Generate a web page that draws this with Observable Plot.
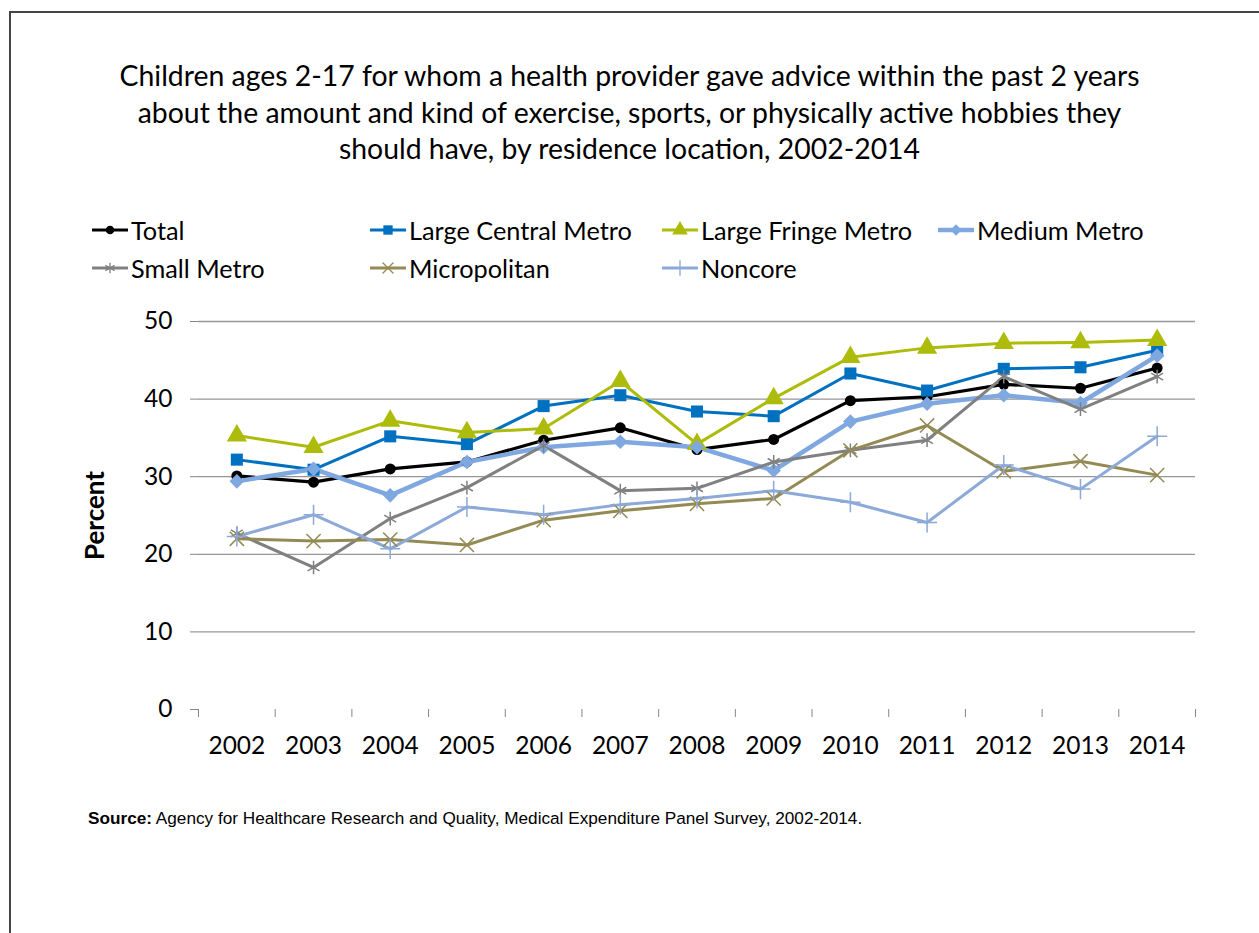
<!DOCTYPE html>
<html>
<head>
<meta charset="utf-8">
<script src="https://cdn.jsdelivr.net/npm/d3@7"></script>
<script src="https://cdn.jsdelivr.net/npm/@observablehq/plot@0.6"></script>
<style>
  html, body { margin: 0; padding: 0; background: #fff; }
  body { width: 1259px; height: 933px; position: relative; overflow: hidden; font-family: Lato, "Open Sans", sans-serif; }
  #frame { position: absolute; left: 9px; top: 11px; width: 1400px; height: 1000px; border-left: 2px solid #444; border-top: 2px solid #444; }
  #title { position: absolute; left: 0; width: 1259px; top: 57px; text-align: center; font-size: 28.4px; line-height: 36.5px; color: #000; white-space: nowrap; }
  #legend { position: absolute; left: 92px; top: 215px; display: grid; grid-template-columns: 278px 292px 276px 300px; row-gap: 8px; }
  .item { display: flex; align-items: center; height: 30px; font-size: 25.3px; color: #000; white-space: nowrap; }
  .item svg { margin-right: 3px; flex: none; }
  #chart { position: absolute; left: 0; top: 300px; }
  #source { position: absolute; left: 88px; top: 808px; font-family: "Liberation Sans", Arial, sans-serif; font-size: 17.2px; color: #000; white-space: nowrap; }
</style>
</head>
<body>
<div id="frame"></div>
<div id="title">Children ages 2-17 for whom a health provider gave advice within the past 2 years<br>about the amount and kind of exercise, sports, or physically active hobbies they<br>should have, by residence location, 2002-2014</div>
<div id="legend"></div>
<div id="chart"></div>
<div id="source"><b>Source:</b> Agency for Healthcare Research and Quality, Medical Expenditure Panel Survey, 2002-2014.</div>
<script>
const years = [2002, 2003, 2004, 2005, 2006, 2007, 2008, 2009, 2010, 2011, 2012, 2013, 2014];
const seriesNames = ["Total", "Large Central Metro", "Large Fringe Metro", "Medium Metro", "Small Metro", "Micropolitan", "Noncore"];
const total        = [30.1, 29.3, 31.0, 31.9, 34.7, 36.3, 33.5, 34.8, 39.8, 40.3, 41.9, 41.4, 44.0];
const largeCentral = [32.2, 30.9, 35.2, 34.2, 39.1, 40.5, 38.4, 37.8, 43.3, 41.1, 43.9, 44.1, 46.3];
const largeFringe  = [35.3, 33.8, 37.2, 35.7, 36.2, 42.3, 34.2, 40.1, 45.4, 46.6, 47.2, 47.3, 47.6];
const mediumMetro  = [29.4, 31.0, 27.6, 31.9, 33.8, 34.5, 33.8, 30.8, 37.1, 39.4, 40.5, 39.5, 45.6];
const smallMetro   = [22.7, 18.3, 24.6, 28.6, 34.0, 28.2, 28.5, 31.9, 33.4, 34.7, 42.9, 38.7, 42.9];
const micropolitan = [22.0, 21.7, 21.9, 21.2, 24.4, 25.6, 26.5, 27.2, 33.4, 36.6, 30.7, 32.0, 30.2];
const noncore      = [22.3, 25.1, 20.7, 26.1, 25.1, 26.4, 27.2, 28.2, 26.7, 24.1, 31.5, 28.4, 35.2];
const yTicks = [0, 10, 20, 30, 40, 50];

const seriesValues = [total, largeCentral, largeFringe, mediumMetro, smallMetro, micropolitan, noncore];
const styles = [
  {color: "#000000", symbol: "circle",   r: 5.5, filled: true,  width: 3.2},
  {color: "#0070C0", symbol: "square",   r: 6.8, filled: true,  width: 3},
  {color: "#ADBC0A", symbol: "triangle", r: 7.5, filled: true,  width: 3},
  {color: "#7FA8E0", symbol: "diamond2", r: 6.6, filled: true,  width: 4.5},
  {color: "#808080", symbol: "asterisk", r: 6.5, filled: false, width: 3},
  {color: "#948A54", symbol: "times",    r: 6.5, filled: false, width: 3},
  {color: "#8DA9D8", symbol: "plus",     r: 6.5, filled: false, width: 3}
];

const series = seriesNames.map((name, i) => ({
  name, style: styles[i],
  data: years.map((year, j) => ({year, value: seriesValues[i][j], series: name}))
}));

const boundaries = years.map(y => y - 0.5).concat([years[years.length - 1] + 0.5]);

const marks = [
  Plot.gridY(yTicks.filter(d => d > 0), {stroke: "#969696", strokeOpacity: 1, strokeWidth: 1.3}),
  Plot.axisY(yTicks, {tickSize: 8, tickPadding: 18, fontSize: 24.5, label: null, stroke: "#868686", line: true, fill: "#000"}),
  Plot.axisX(boundaries, {tickSize: 8, tickFormat: () => "", label: null, stroke: "#868686", line: true}),
  Plot.axisX(years, {tickSize: 0, tickPadding: 27, fontSize: 24.5, tickFormat: d => String(d), label: null, fill: "#000"}),
  Plot.text(["Percent"], {frameAnchor: "left", textAnchor: "middle", dx: -103, rotate: -90, fontWeight: "bold", fontSize: 26, fill: "#000"})
];
for (const s of series) {
  marks.push(Plot.line(s.data, {x: "year", y: "value", stroke: s.style.color, strokeWidth: s.style.width, curve: "linear"}));
}
for (const s of series) {
  const st = s.style;
  marks.push(Plot.dot(s.data, st.filled
    ? {x: "year", y: "value", symbol: () => st.symbol, r: st.r, fill: st.color, stroke: "none"}
    : {x: "year", y: "value", symbol: () => st.symbol, r: st.r, fill: "none", stroke: st.color, strokeWidth: 1.5}));
}

const chart = Plot.plot({
  width: 1259, height: 470,
  marginLeft: 198, marginRight: 64, marginTop: 21, marginBottom: 61,
  style: {fontFamily: "Lato, 'Open Sans', sans-serif", fontSize: "24px", color: "#000", background: "transparent", overflow: "visible"},
  x: {type: "linear", domain: [years[0] - 0.5, years[years.length - 1] + 0.5]},
  y: {domain: [yTicks[0], yTicks[yTicks.length - 1]]},
  symbol: {type: "identity"},
  marks
});
document.getElementById("chart").appendChild(chart);

// Legend
const symMap = {circle: d3.symbolCircle, square: d3.symbolSquare, triangle: d3.symbolTriangle, diamond2: d3.symbolDiamond2,
  asterisk: d3.symbolAsterisk, times: d3.symbolTimes, plus: d3.symbolPlus};
const legend = document.getElementById("legend");
series.forEach((s, k) => {
  const st = s.style;
  const div = document.createElement("div");
  div.className = "item";
  if (k === 4) div.style.gridColumn = "1";
  const size = Math.PI * st.r * st.r * 0.6;
  const path = d3.symbol(symMap[st.symbol], size)();
  div.innerHTML = `<svg width="36" height="20" viewBox="-18 -10 36 20"><line x1="-18" x2="18" y1="0" y2="0" stroke="${st.color}" stroke-width="${st.width}"/><path d="${path}" fill="${st.filled ? st.color : "none"}" stroke="${st.filled ? "none" : st.color}" stroke-width="1.3"/></svg><span>${s.name}</span>`;
  legend.appendChild(div);
});
</script>
</body>
</html>
